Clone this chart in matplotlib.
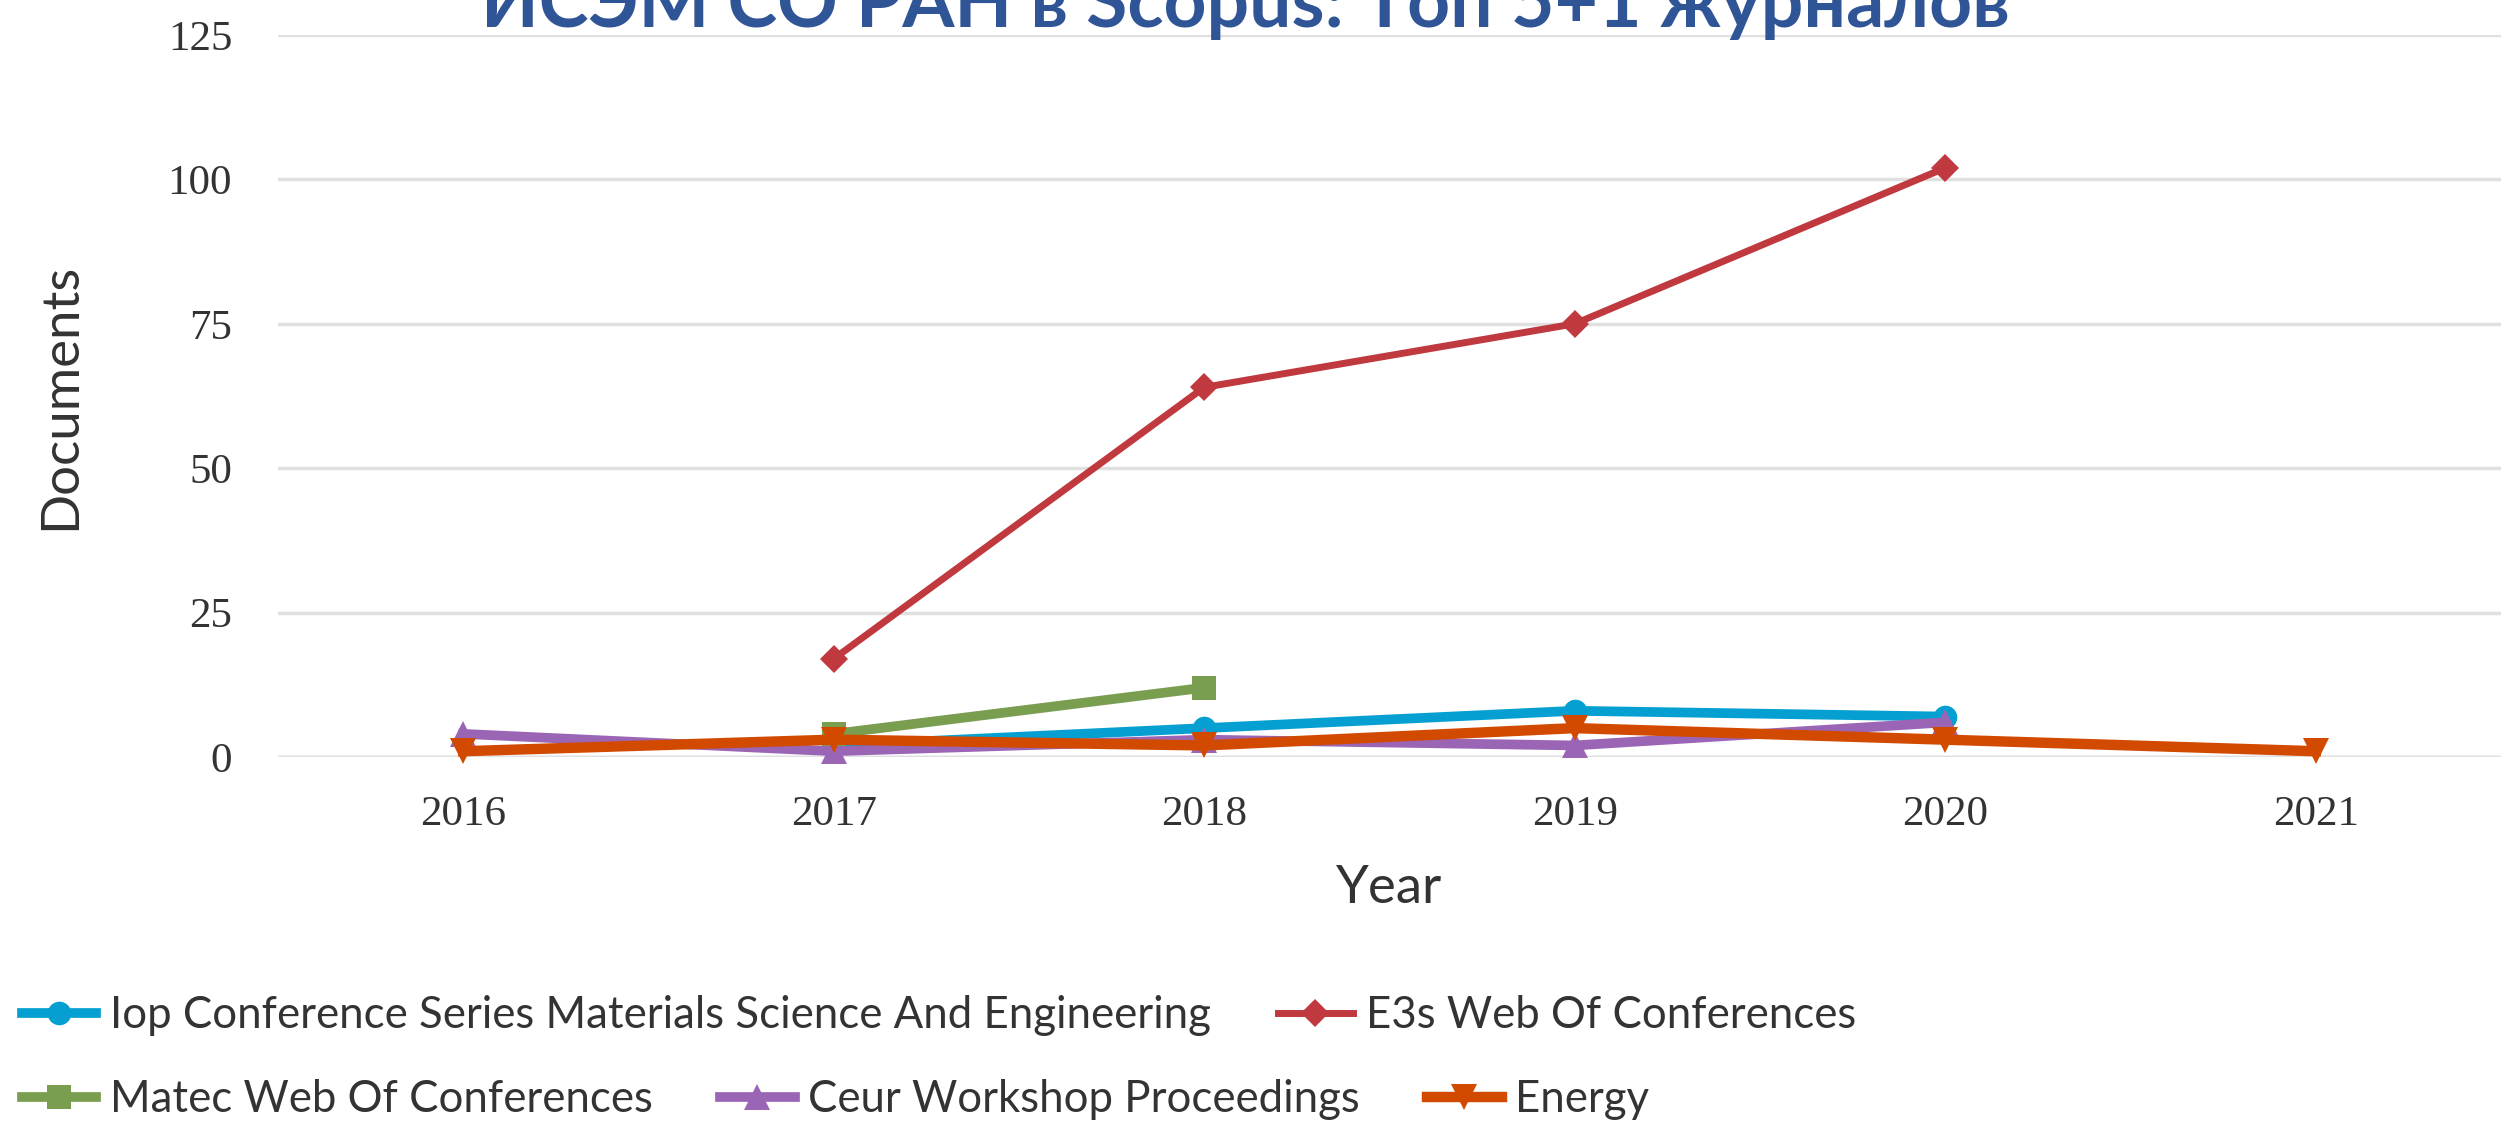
import numpy as np
import matplotlib
matplotlib.use("Agg")
from matplotlib import pyplot as plt

# data
years = [2016, 2017, 2018, 2019, 2020, 2021]
iop_vals = [None, 2, 5, 8, 7, None]
e3s_vals = [None, 17, 64, 75, 102, None]
matec_vals = [None, 4, 12, None, None, None]
ceur_vals = [4, 1, 3, 2, 6, None]
energy_vals = [1, 3, 2, 5, 3, 1]

series_names = ["Iop Conference Series Materials Science And Engineering",
                "E3s Web Of Conferences",
                "Matec Web Of Conferences",
                "Ceur Workshop Proceedings",
                "Energy"]
y_ticks = [0, 25, 50, 75, 100, 125]
title = "ИСЭМ СО РАН в Scopus: Топ 5+1 журналов"

colors = ["#05A0D1", "#C0393F", "#7A9E50", "#9A65B5", "#D24A00"]
markers = ["o", "D", "s", "^", "v"]
msizes = [17, 14, 17, 19, 19]
lwidths = [7, 5, 7, 7, 7.5]


def to_xy(vals):
    xs = [x for x, v in zip(years, vals) if v is not None]
    ys = [v for v in vals if v is not None]
    return xs, ys


fig = plt.figure(figsize=(25.01, 11.33), dpi=100)
ax = fig.add_axes([278 / 2501, 1 - 757 / 1133, 1 - 278 / 2501, (757 - 35) / 1133])

all_vals = [iop_vals, e3s_vals, matec_vals, ceur_vals, energy_vals]
handles = []
for i in range(len(all_vals)):
    xs, ys = to_xy(all_vals[i])
    ln, = ax.plot(xs, ys, color=colors[i], lw=lwidths[i], marker=markers[i],
                  ms=msizes[i], mec=colors[i], mew=0, label=series_names[i],
                  clip_on=False, zorder=3 + i)
    handles.append(ln)

ax.set_xlim(2015.5, 2021.5)
ax.set_ylim(0, 125)
ax.set_yticks(y_ticks)
ax.set_xticks(years)
for s in ax.spines.values():
    s.set_visible(False)
ax.grid(axis="y", color="#E0E0E0", lw=2.5, zorder=0)
ax.grid(axis="x", visible=False)
ax.axhline(0, color="#CBD2E6", lw=2.5, zorder=1)
ax.tick_params(length=0, labelsize=31, colors="#333333")
ax.tick_params(axis="y", pad=33)
ax.tick_params(axis="x", pad=28)
for lab in ax.get_xticklabels() + ax.get_yticklabels():
    lab.set_fontfamily("Liberation Serif")

ax.set_ylabel("Documents", fontsize=38, family="Lato", color="#333333", labelpad=60)
ax.set_xlabel("Year", fontsize=38, family="Lato", color="#333333", labelpad=22)

# title is partly cut by the top edge, like in the reference
fig.text(1245 / 2501, 1 - 27 / 1133, title, ha="center", va="baseline",
         fontsize=54, fontweight="bold", family="Lato", color="#2F5597")

leg_kw = dict(frameon=False, prop={"family": "Lato", "size": 31.5},
              handlelength=1.7, handletextpad=0.3, columnspacing=1.55,
              borderpad=0, borderaxespad=0, loc="center left")
leg1 = fig.legend(handles[:2], series_names[:2], ncol=2,
                  bbox_to_anchor=(22 / 2501, 1 - 1016 / 1133), **leg_kw)
leg2 = fig.legend(handles[2:], series_names[2:], ncol=3,
                  bbox_to_anchor=(22 / 2501, 1 - 1100 / 1133), **leg_kw)
for leg in [leg1, leg2]:
    for txt in leg.get_texts():
        txt.set_color("#333333")

fig.savefig("out.png", dpi=100)
plt.close(fig)
